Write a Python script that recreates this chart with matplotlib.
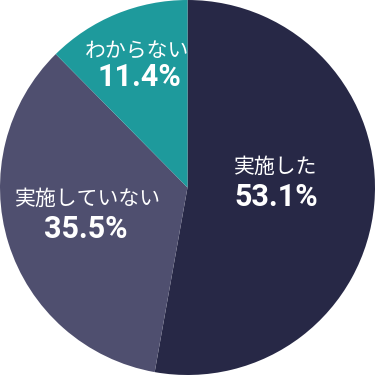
import matplotlib
matplotlib.use('Agg')
import matplotlib.pyplot as plt

# データ
labels = ['実施した', '実施していない', 'わからない']
pct_labels = ['53.1%', '35.5%', '11.4%']
# 扇形の大きさ（図から読み取った角度の割合）
shares = [52.8, 34.8, 12.4]
colors = ['#272846', '#4f4f6f', '#1e9a9c']
# ラベル位置（円の半径=1 の座標）
cat_pos = [(0.472, 0.109), (-0.531, -0.061), (-0.269, 0.723)]
pct_pos = [(0.472, -0.051), (-0.541, -0.221), (-0.259, 0.589)]

fig = plt.figure(figsize=(3.75, 3.75), dpi=100)
ax = fig.add_axes([0, 0, 1, 1])
ax.pie(shares, colors=colors, startangle=90, counterclock=False, radius=1)
ax.set_xlim(-1, 1)
ax.set_ylim(-1, 1)
ax.set_aspect('equal')
ax.axis('off')

for lab, p, cp, pp in zip(labels, pct_labels, cat_pos, pct_pos):
    ax.text(cp[0], cp[1], lab, ha='center', va='center', color='white',
            fontsize=15, family=['Noto Sans CJK JP', 'DejaVu Sans'])
    ax.text(pp[0], pp[1], p, ha='center', va='center', color='white',
            fontsize=22, fontweight='bold', family=['Roboto', 'DejaVu Sans'])

fig.savefig('out.png', dpi=100)
